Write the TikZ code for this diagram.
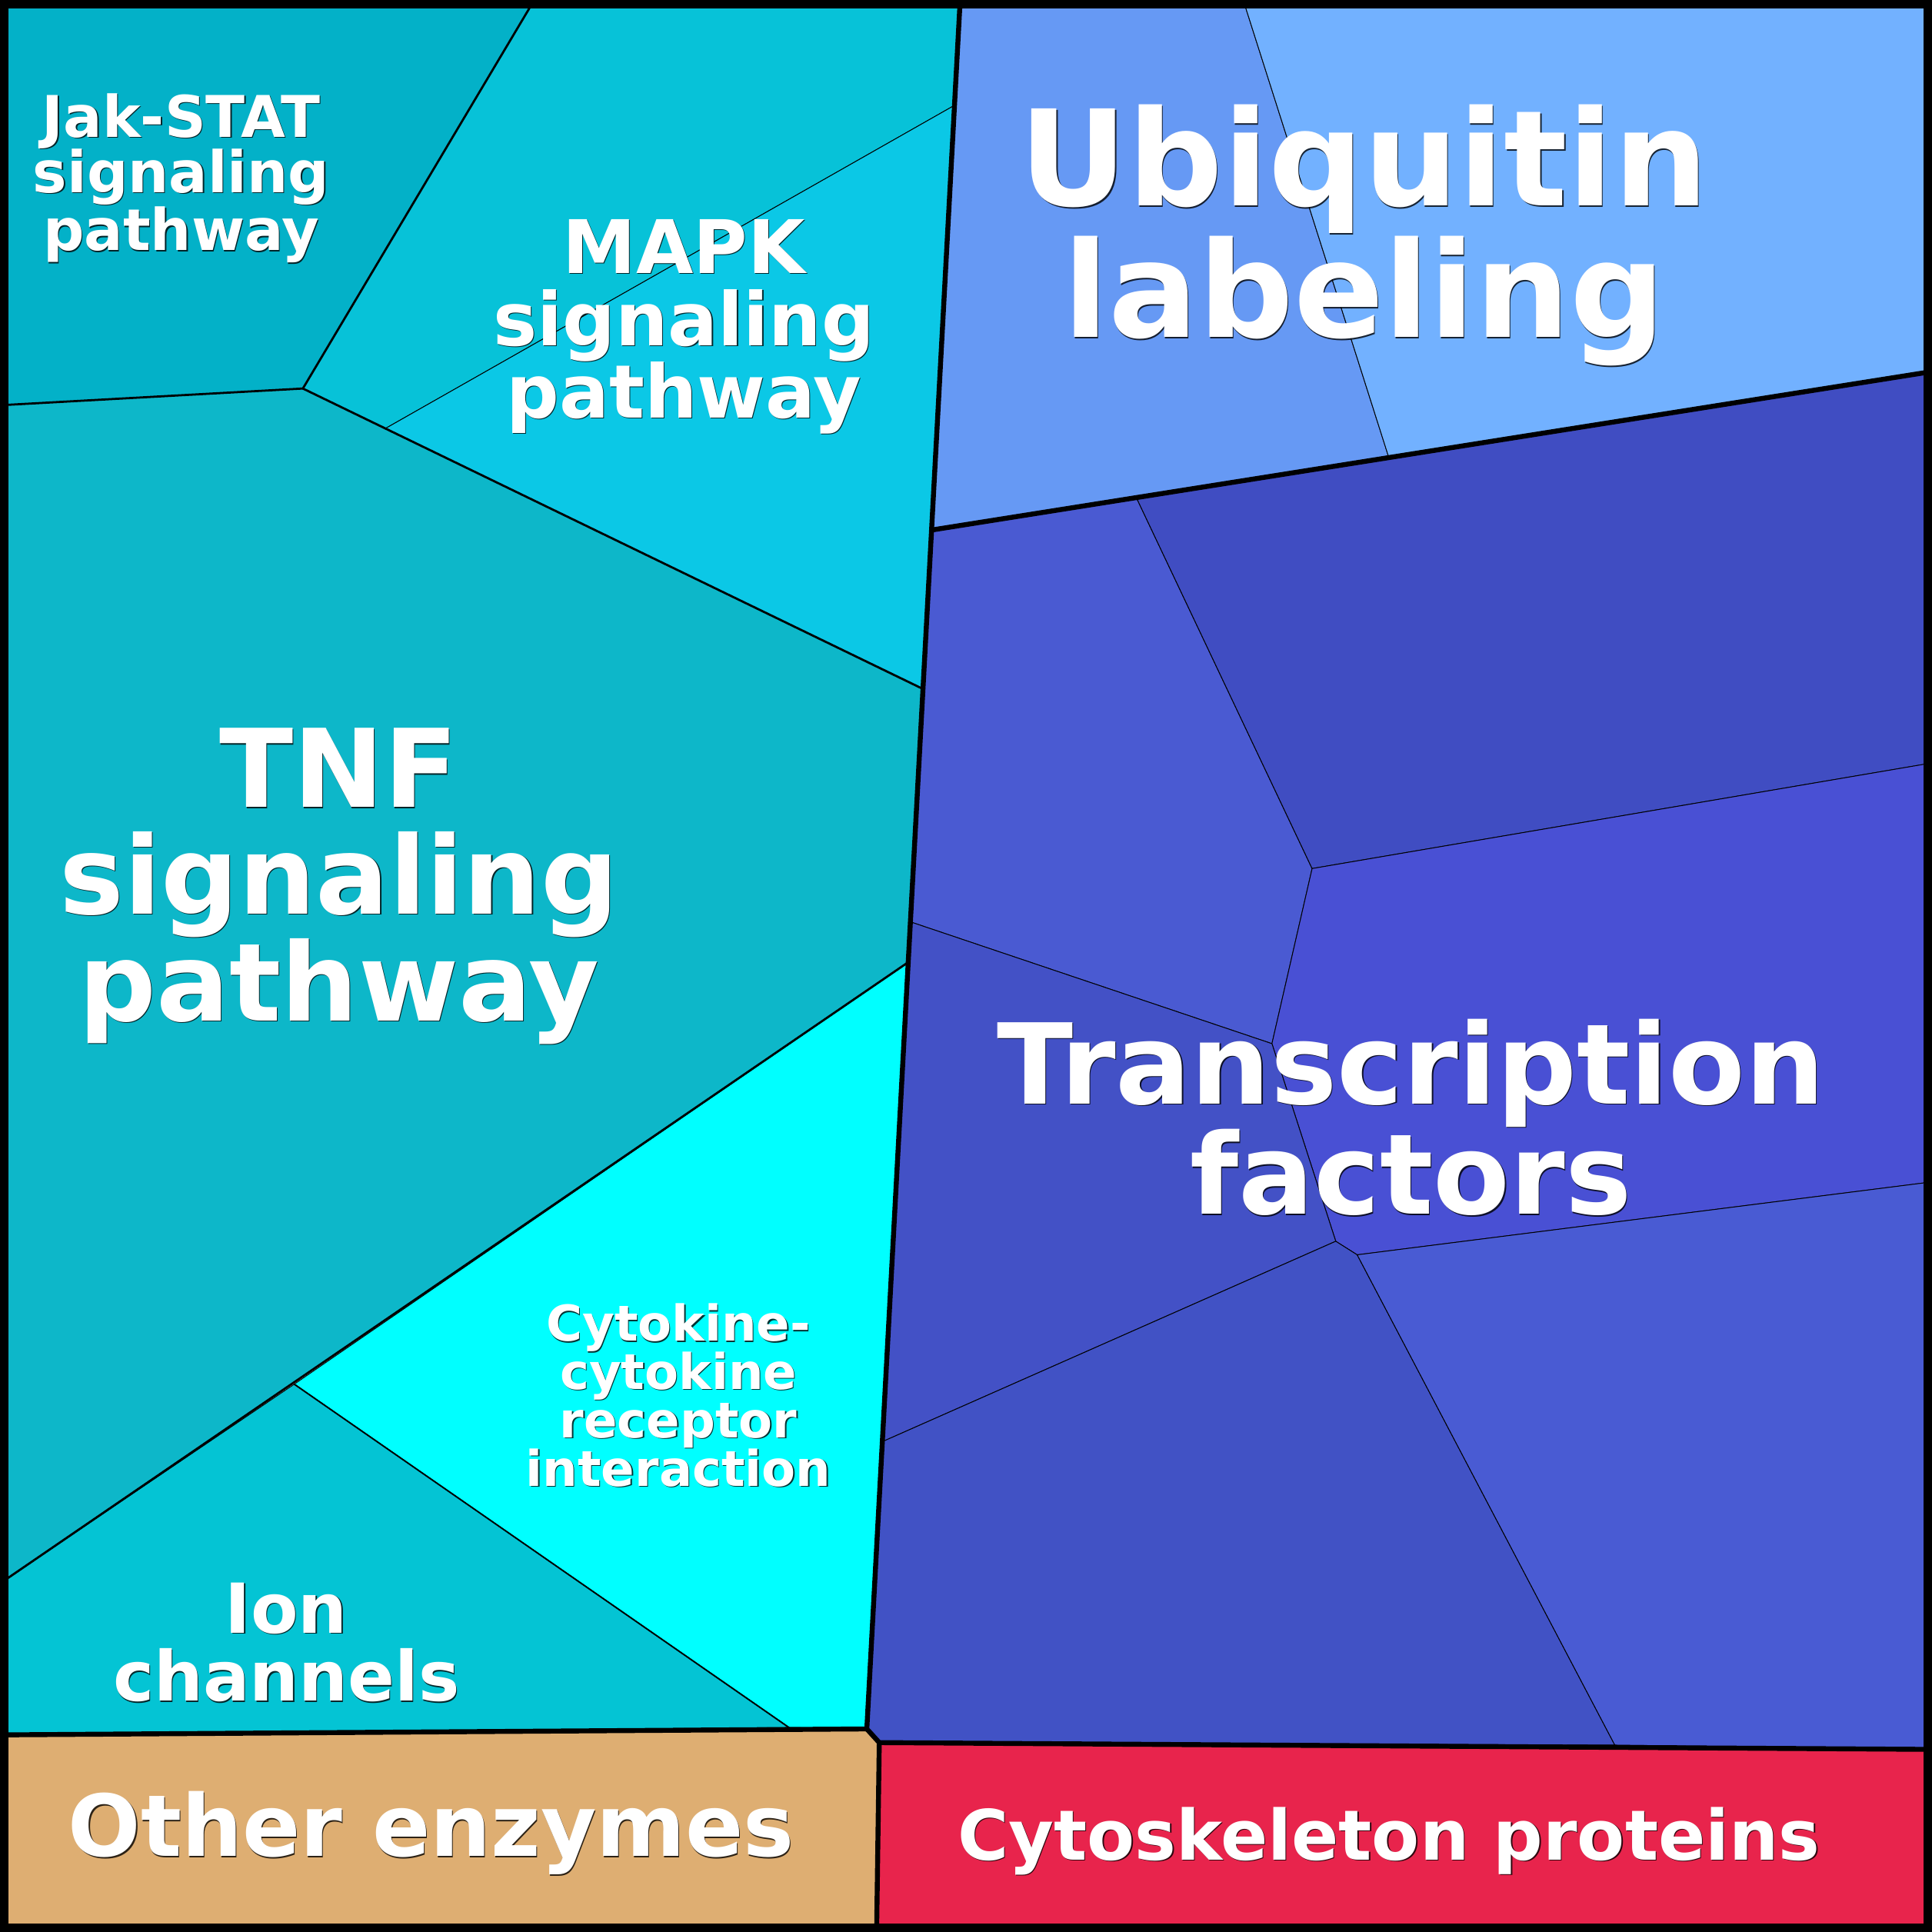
\documentclass[tikz,border=0pt]{standalone}
\usepackage{fontspec}
\setmainfont{DejaVu Sans}

\definecolor{cJak}{RGB}{3,177,200}
\definecolor{cMapkA}{RGB}{7,194,216}
\definecolor{cMapkB}{RGB}{11,200,230}
\definecolor{cTnf}{RGB}{13,183,201}
\definecolor{cCyto}{RGB}{0,255,255}
\definecolor{cIon}{RGB}{4,196,212}
\definecolor{cUbqA}{RGB}{102,153,244}
\definecolor{cUbqB}{RGB}{114,177,255}
\definecolor{cTfA}{RGB}{74,90,210}
\definecolor{cTfB}{RGB}{64,77,194}
\definecolor{cTfC}{RGB}{73,80,212}
\definecolor{cTfD}{RGB}{67,81,198}
\definecolor{cTfE}{RGB}{65,82,197}
\definecolor{cTfF}{RGB}{73,91,211}
\definecolor{cOther}{RGB}{222,174,114}
\definecolor{cSkel}{RGB}{232,36,76}

\tikzset{
  cell/.style={draw=black, line width=0.45pt},
  mid edge/.style={draw=black, line width=1.3pt},
  group edge/.style={draw=black, line width=3pt},
  lbl/.style={text=white, inner sep=0pt, align=center},
  lbl shadow/.style={text=black, text opacity=0.8, inner sep=0pt, align=center, xshift=0.6pt, yshift=-0.6pt},
}

% #1 name, #2 position, #3 anchor, #4 size, #5 skip, #6 text
\newcommand{\celltext}[6]{%
  \node [lbl shadow, anchor=#3, font=\fontsize{#4}{#5}\selectfont\bfseries] at #2 {#6};
  \node (#1) [lbl, anchor=#3, font=\fontsize{#4}{#5}\selectfont\bfseries] at #2 {#6};
}

\begin{document}
\begin{tikzpicture}[x=0.75pt,y=0.75pt,yscale=-1,xscale=1]
	\path (0,0) rectangle (1568,1568); %set diagram size

	%Shape: Polygon [Jak-STAT]
	\draw [cell, fill=cJak] (5,5) -- (430.6,5) -- (245.8,315.3) -- (5,328.6) -- cycle ;
	%Shape: Polygon [MAPK]
	\draw [cell, fill=cMapkA] (430.6,5) -- (779,5) -- (773.7,86) -- (313,347.6) -- (245.8,315.3) -- cycle ;
	\draw [cell, fill=cMapkB] (773.7,86) -- (748.8,559) -- (313,347.6) -- cycle ;
	%Shape: Polygon [TNF]
	\draw [cell, fill=cTnf] (5,328.6) -- (245.8,315.3) -- (748.8,559) -- (737,781) -- (5,1281.7) -- cycle ;
	%Shape: Polygon [Cytokine]
	\draw [cell, fill=cCyto] (737,781) -- (238.8,1123.4) -- (640.4,1402.1) -- (703.5,1403.2) -- cycle ;
	%Shape: Polygon [Ion channels]
	\draw [cell, fill=cIon] (5,1281.7) -- (238.8,1123.4) -- (640.4,1402.1) -- (5,1408) -- cycle ;

	%Shape: Polygon [Ubiquitin]
	\draw [cell, fill=cUbqA] (779,5) -- (1010.6,5) -- (1127.2,371.4) -- (757,430) -- cycle ;
	\draw [cell, fill=cUbqB] (1010.6,5) -- (1565,5) -- (1565,302) -- (1127.2,371.4) -- cycle ;

	%Shape: Polygon [Transcription factors]
	\draw [cell, fill=cTfA] (757,430) -- (922.8,405) -- (1064.9,704.9) -- (1032.3,847) -- (739,748.2) -- cycle ;
	\draw [cell, fill=cTfB] (922.8,405) -- (1565,302) -- (1565,619.7) -- (1064.9,704.9) -- cycle ;
	\draw [cell, fill=cTfC] (1064.9,704.9) -- (1565,619.7) -- (1565,959.6) -- (1101.5,1018.4) -- (1084.1,1007.4) -- (1032.3,847) -- cycle ;
	\draw [cell, fill=cTfD] (739,748.2) -- (1032.3,847) -- (1084.1,1007.4) -- (716,1170.1) -- cycle ;
	\draw [cell, fill=cTfE] (716,1170.1) -- (1084.1,1007.4) -- (1101.5,1018.4) -- (1310.6,1416.3) -- (713.6,1414.3) -- (703.5,1403.2) -- cycle ;
	\draw [cell, fill=cTfF] (1101.5,1018.4) -- (1565,959.6) -- (1565,1419.8) -- (1310.6,1416.3) -- cycle ;

	%Shape: Polygon [Other enzymes]
	\draw [cell, fill=cOther] (5,1408) -- (703.5,1403.2) -- (713.6,1414.3) -- (711.5,1565) -- (5,1565) -- cycle ;
	%Shape: Polygon [Cytoskeleton proteins]
	\draw [cell, fill=cSkel] (713.6,1414.3) -- (1565,1419.8) -- (1565,1565) -- (711.5,1565) -- cycle ;

	%Straight Lines [category borders]
	\draw [mid edge] (430.6,5) -- (245.8,315.3) -- (5,328.6) ;
	\draw [mid edge] (245.8,315.3) -- (748.8,559) ;
	\draw [mid edge] (737,781) -- (5,1281.7) ;
	\draw [mid edge, line width=0.9pt] (238.8,1123.4) -- (640.4,1402.1) ;

	%Straight Lines [group borders]
	\draw [group edge] (779,5) -- (703.5,1403.2) -- (713.6,1414.3) -- (1565,1419.8) ;
	\draw [group edge] (5,1408) -- (703.5,1403.2) ;
	\draw [group edge] (713.6,1414.3) -- (711.5,1565) ;
	\draw [group edge] (757,430) -- (1565,302) ;

	%Shape: Rectangle [frame]
	\draw [line width=5.3pt] (3.5,3.5) rectangle (1564.5,1564.5) ;

	% Text Node
	\celltext{jak}{(147,75.4)}{north}{35}{34}{Jak-STAT\\signaling\\pathway}
	% Text Node
	\celltext{mapk}{(555,177.7)}{north}{45}{44}{MAPK\\signaling\\pathway}
	% Text Node
	\celltext{ubq}{(1107,84.9)}{north}{81}{80}{Ubiquitin\\labeling}
	% Text Node
	\celltext{tnf}{(275,590.8)}{north}{66}{65}{TNF\\signaling\\pathway}
	% Text Node
	\celltext{tf}{(1145,827)}{north}{68}{67}{Transcription\\factors}
	% Text Node
	\celltext{cyto}{(550.6,1057.8)}{north}{30}{29.4}{Cytokine-\\cytokine\\receptor\\interaction}
	% Text Node
	\celltext{ion}{(232.4,1284.3)}{north}{42}{41.5}{Ion\\channels}
	% Text Node
	\celltext{other}{(350,1506.7)}{base}{52}{52}{Other enzymes}
	% Text Node
	\celltext{skel}{(1127.3,1509.7)}{base}{42.3}{42}{Cytoskeleton proteins}

\end{tikzpicture}
\end{document}
